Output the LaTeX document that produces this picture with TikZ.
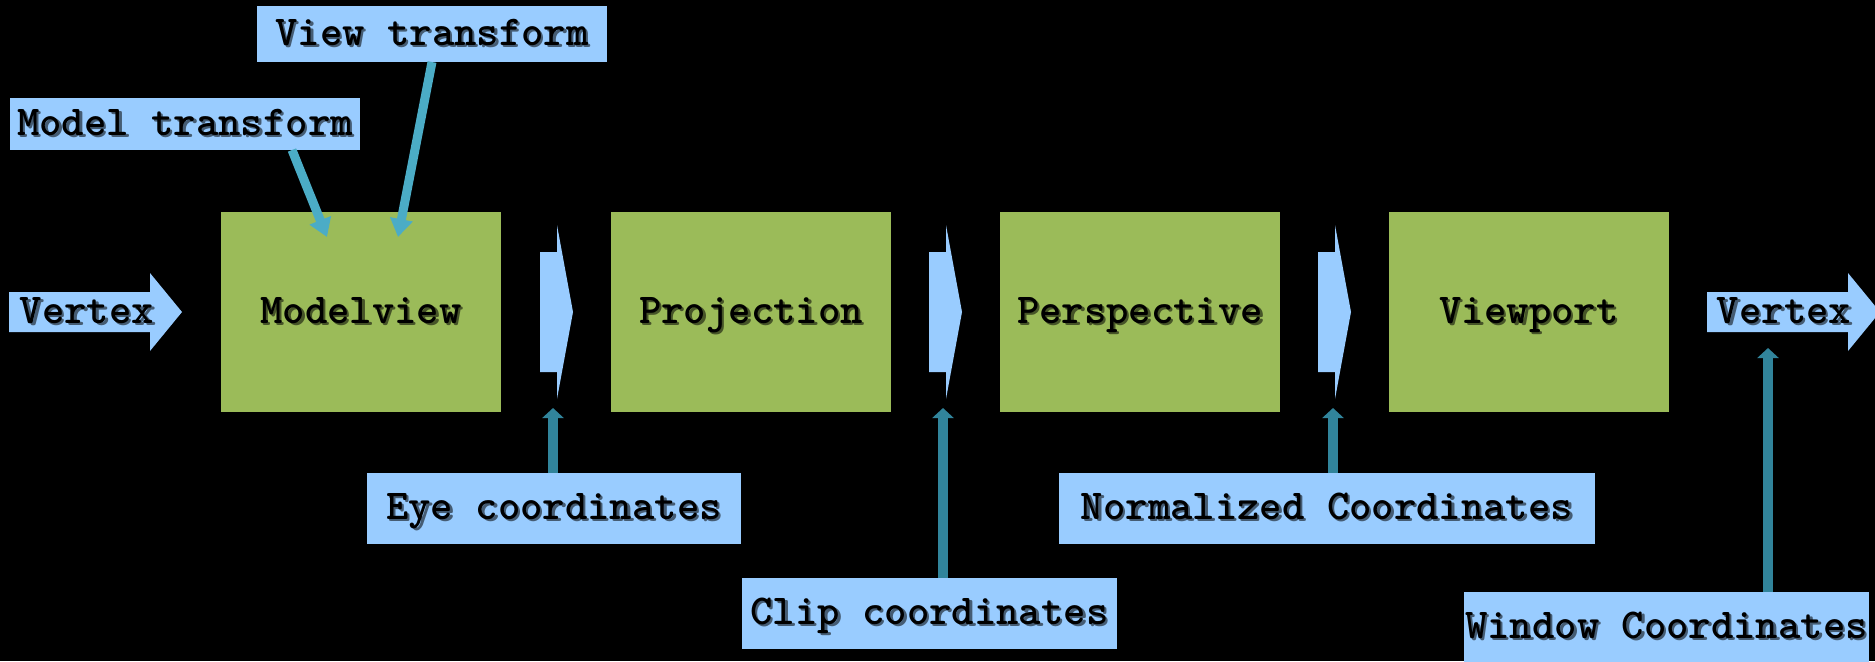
\documentclass[tikz,border=0pt]{standalone}
\usepackage{fontspec}
\usetikzlibrary{arrows.meta,calc}

\definecolor{sgreen}{HTML}{9BBB59}
\definecolor{lblue}{HTML}{99CCFF}
\definecolor{xform}{HTML}{4BACC6}
\definecolor{coord}{HTML}{31849B}
\colorlet{shLabel}{lblue!45!black}
\colorlet{shStage}{sgreen!45!black}

% text with a soft drop shadow underneath
\newcommand\shadowed[2]{\makebox[0pt][l]{\hspace{1.2pt}\raisebox{-1.2pt}{\textcolor{#1}{#2}}}#2}

\begin{document}
\begin{tikzpicture}[x=0.5pt,y=-0.5pt,
  every node/.style={font=\ttfamily\bfseries\fontsize{21.3}{24}\selectfont,
    inner sep=0pt, outer sep=0pt, text height=15pt, text depth=4pt},
  stagebox/.style={fill=sgreen, minimum width=140pt, minimum height=100pt},
  labelbox/.style={fill=lblue, minimum height=35.5pt},
  xarrow/.style={draw=xform, line width=4.5pt, -{Triangle[width=11pt,length=9pt]}},
  uparrow/.style={draw=coord, line width=4.75pt, -{Triangle[width=10.5pt,length=5pt]}}]

% canvas
\fill[black] (0,0) rectangle (1875,661);
\useasboundingbox (0,0) rectangle (1875,661);

% pipeline stages
\node[stagebox] (mv) at (361,312)  {\shadowed{shStage}{Modelview}};
\node[stagebox] (pj) at (751,312)  {\shadowed{shStage}{Projection}};
\node[stagebox] (ps) at (1140,312) {\shadowed{shStage}{Perspective}};
\node[stagebox] (vp) at (1529,312) {\shadowed{shStage}{Viewport}};

% flow chevrons between the stages
\foreach \dx in {0, 389, 778} {
  \fill[lblue] ({540+\dx},252) -- ({557+\dx},252) -- ({557+\dx},225)
    -- ({573+\dx},312) -- ({557+\dx},399) -- ({557+\dx},372) -- ({540+\dx},372) -- cycle;
}
\coordinate (chev1) at (553,408);
\coordinate (chev2) at (943,408);
\coordinate (chev3) at (1333,408);

% input and output vertex arrows
\fill[lblue] (9,292) -- (150,292) -- (150,273) -- (182,312) -- (150,351)
  -- (150,332) -- (9,332) -- cycle;
\node (vin) at (87,312) {\shadowed{shLabel}{Vertex}};
\fill[lblue] (1707,292) -- (1848,292) -- (1848,273) -- (1880,312) -- (1848,351)
  -- (1848,332) -- (1707,332) -- cycle;
\node (vout) at (1784,312) {\shadowed{shLabel}{Vertex}};

% transform labels
\node[labelbox, minimum width=175pt, minimum height=28pt] (vt) at (432,34)
  {\shadowed{shLabel}{View transform}};
\node[labelbox, minimum width=175pt, minimum height=26pt] (mt) at (185,124)
  {\shadowed{shLabel}{Model transform}};

% coordinate-space labels
\node[labelbox, minimum width=187pt] (ec) at (554,508.5)
  {\shadowed{shLabel}{Eye coordinates}};
\node[labelbox, minimum width=187.5pt] (cc) at (929.5,613.5)
  {\shadowed{shLabel}{Clip coordinates}};
\node[labelbox, minimum width=268pt] (nc) at (1327,508.5)
  {\shadowed{shLabel}{Normalized Coordinates}};
\node[labelbox, minimum width=202.5pt] (wc) at (1666.5,627.5)
  {\shadowed{shLabel}{Window Coordinates}};

% transforms feeding the modelview stage
\coordinate (mtTip) at (327,237);
\coordinate (vtTip) at (398,237);
\draw[xarrow] ([xshift=53.5pt]mt.south) -- (mtTip);
\draw[xarrow] (vt.south) -- (vtTip);

% coordinate spaces pointing at the flow
\coordinate (outTip) at (1768,348);
\draw[uparrow] (ec.north -| chev1) -- (chev1);
\draw[uparrow] (cc.north -| chev2) -- (chev2);
\draw[uparrow] (nc.north -| chev3) -- (chev3);
\draw[uparrow] (wc.north -| outTip) -- (outTip);
\end{tikzpicture}
\end{document}
